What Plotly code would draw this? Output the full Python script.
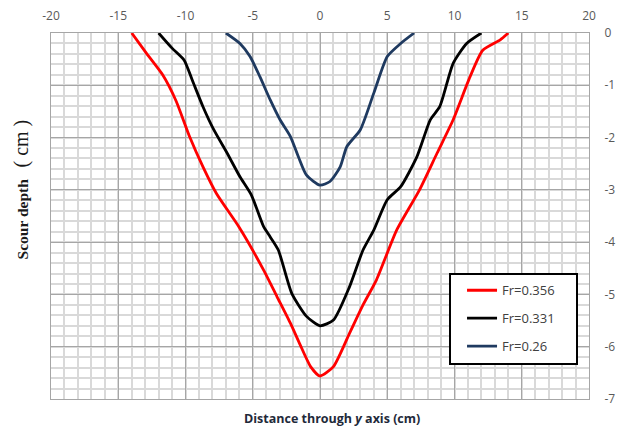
import plotly.graph_objects as go

# ---- data ----
red_x = [-14, -12.9, -11.7, -10.7, -9.7, -8.7, -7.7, -6.0, -4.2, -3.2, -2.2, -1.5, -0.7, 0, 1.0, 2.2, 3.2, 4.2, 5.7, 7.4, 8.7, 9.9, 11.15, 12.1, 13.4, 14]
red_y = [0, -0.39, -0.8, -1.3, -1.98, -2.56, -3.07, -3.72, -4.53, -5.04, -5.55, -5.95, -6.38, -6.56, -6.38, -5.74, -5.2, -4.72, -3.77, -3.0, -2.3, -1.66, -0.84, -0.33, -0.13, 0]

black_x = [-12, -11.0, -10.1, -9.5, -8.7, -7.9, -6.9, -5.95, -5.1, -4.2, -3.7, -3.1, -2.1, -1.0, 0, 1.0, 2.2, 3.2, 4.0, 5.0, 6.0, 7.2, 8.2, 8.9, 9.9, 10.9, 12]
black_y = [0, -0.29, -0.52, -0.9, -1.41, -1.85, -2.3, -2.75, -3.1, -3.7, -3.9, -4.15, -4.98, -5.42, -5.6, -5.49, -4.85, -4.15, -3.77, -3.19, -2.94, -2.37, -1.66, -1.41, -0.58, -0.2, 0]

blue_x = [-7.0, -5.95, -5.2, -4.46, -3.7, -2.97, -2.2, -1.6, -1.0, 0, 0.74, 1.5, 2.0, 3.0, 4.0, 5.0, 6.0, 7.0]
blue_y = [0, -0.2, -0.45, -0.84, -1.28, -1.66, -1.98, -2.37, -2.72, -2.91, -2.84, -2.56, -2.17, -1.85, -1.15, -0.45, -0.2, 0]

series_names = ["Fr=0.356", "Fr=0.331", "Fr=0.26"]
x_ticks = [-20, -15, -10, -5, 0, 5, 10, 15, 20]
y_ticks = [0, -1, -2, -3, -4, -5, -6, -7]

colors = ["#ff0000", "#000000", "#1f3a60"]

fig = go.Figure()
for i, (xs, ys) in enumerate([(red_x, red_y), (black_x, black_y), (blue_x, blue_y)]):
    fig.add_trace(go.Scatter(
        x=xs, y=ys, mode="lines", name=series_names[i],
        line=dict(color=colors[i], width=2.8, shape="spline", smoothing=0.6),
        legendgroup=str(i),
    ))

tickfont = dict(family="Open Sans, sans-serif", size=12, color="#595959")

fig.update_layout(
    width=618, height=430,
    margin=dict(l=51, r=29, t=33, b=31),
    paper_bgcolor="white", plot_bgcolor="white",
    showlegend=True,
    legend=dict(
        x=0.764, y=0.338, xanchor="left", yanchor="top",
        bgcolor="rgba(0,0,0,0)", borderwidth=0,
        font=dict(family="Open Sans, sans-serif", size=13, color="#404040"),
        tracegroupgap=8,
    ),
    xaxis=dict(
        range=[-20, 20], side="top", tickvals=x_ticks,
        ticktext=[str(v) for v in x_ticks],
        showgrid=True, gridcolor="#a6a6a6", gridwidth=1,
        minor=dict(dtick=1, showgrid=True, gridcolor="#d9d9d9", gridwidth=1.5),
        showline=True, linecolor="#a6a6a6", linewidth=1, mirror=True,
        zeroline=False, ticks="", tickfont=tickfont, ticklabelstandoff=7,
        fixedrange=True, automargin=False,
    ),
    yaxis=dict(
        range=[-7, 0], side="right", tickvals=y_ticks,
        ticktext=[str(v) for v in y_ticks],
        showgrid=True, gridcolor="#a6a6a6", gridwidth=1,
        minor=dict(dtick=0.2, showgrid=True, gridcolor="#d9d9d9", gridwidth=1.5),
        showline=True, linecolor="#a6a6a6", linewidth=1, mirror=True,
        zeroline=False, ticks="", tickfont=tickfont, ticklabelstandoff=12,
        fixedrange=True, automargin=False,
    ),
    shapes=[dict(
        type="rect", xref="paper", yref="paper",
        x0=(450 - 51) / 538, x1=(577 - 51) / 538,
        y0=(399 - 364) / 366, y1=(399 - 274) / 366,
        line=dict(color="black", width=2), fillcolor="white", layer="above",
    )],
    annotations=[
        dict(
            text="<b>Distance through <i>y</i> axis (cm)</b>",
            xref="paper", yref="paper", x=(332 - 51) / 538, y=-0.025,
            xanchor="center", yanchor="top", showarrow=False,
            font=dict(family="Open Sans, sans-serif", size=12.5, color="#1f2a3a"),
        ),
        dict(
            text="<b>Scour depth</b>   <span style='font-size:20px'>( cm )</span>",
            xref="paper", yref="paper", x=-0.055, y=(399 - 189) / 366,
            xanchor="center", yanchor="middle", showarrow=False, textangle=-90,
            font=dict(family="Liberation Serif, serif", size=15.5, color="#1a1a1a"),
        ),
    ],
)

fig.write_html("out.html")
